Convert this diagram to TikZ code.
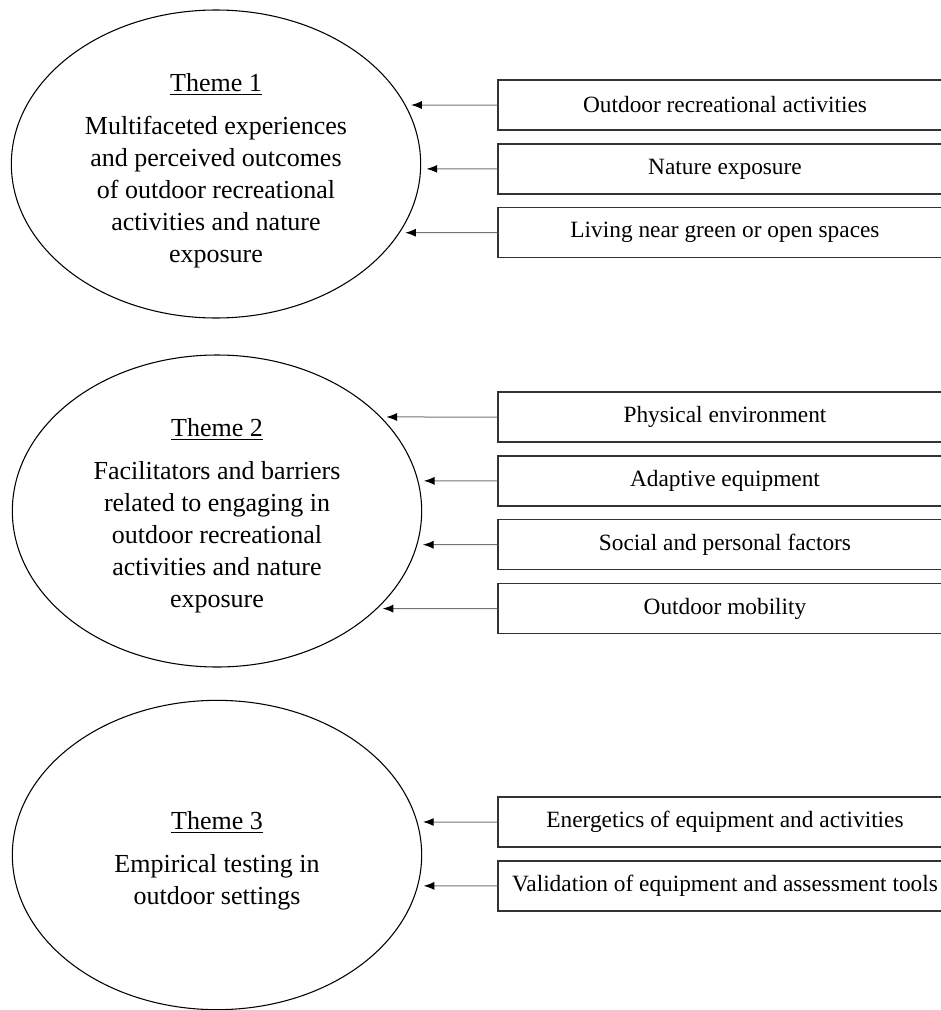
\documentclass[tikz,border=0pt]{standalone}
\usepackage{fontspec}
\setmainfont{Liberation Serif}
\usetikzlibrary{positioning,shapes.geometric,arrows.meta,intersections}

\begin{document}
\begin{tikzpicture}[
    x=0.75pt, y=-0.75pt,
    node distance=9.4pt,
    theme/.style={draw, line width=0.8pt, ellipse, inner sep=0pt, minimum width=307pt, minimum height=232pt},
    themetext/.style={inner sep=0pt, align=center, font=\fontsize{19.5}{24}\selectfont},
    factor/.style={draw=black!80, line width=1pt, minimum width=340.5pt, minimum height=37.5pt, inner sep=0pt, font=\fontsize{17.5}{21}\selectfont},
    link/.style={draw=black!55, line width=0.75pt, -{Latex[black,length=8pt,width=6pt]}, shorten >=4.5pt}
  ]
    \clip (0,0) rectangle (941,1010);

    % themes
    \node[theme, name path=t1, minimum height=231pt] (t1) at (216,164) {};
    \node[themetext] (t1x) at (216,171) {\underline{Theme 1}\\[8pt]Multifaceted experiences\\and perceived outcomes\\of outdoor recreational\\activities and nature\\exposure};
    \node[theme, name path=t2, minimum height=234pt] (t2) at (217,511) {};
    \node[themetext] (t2x) at (217,516) {\underline{Theme 2}\\[8pt]Facilitators and barriers\\related to engaging in\\outdoor recreational\\activities and nature\\exposure};
    \node[theme, name path=t3] (t3) at (217,855) {};
    \node[themetext] (t3x) at (217,861) {\underline{Theme 3}\\[8pt]Empirical testing in\\outdoor settings};

    % factors
    \node[factor] (a1) at (725,105) {Outdoor recreational activities};
    \node[factor, below=of a1] (a2) {Nature exposure};
    \node[factor, below=of a2] (a3) {Living near green or open spaces};

    \node[factor] (b1) at (725,417) {Physical environment};
    \node[factor, below=of b1] (b2) {Adaptive equipment};
    \node[factor, below=of b2] (b3) {Social and personal factors};
    \node[factor, below=of b3] (b4) {Outdoor mobility};

    \node[factor] (c1) at (725,822) {Energetics of equipment and activities};
    \node[factor, below=of c1] (c2) {Validation of equipment and assessment tools};

    % links
    \foreach \src/\tgt in {a1/t1, a2/t1, a3/t1, b1/t2, b2/t2, b3/t2, b4/t2, c1/t3, c2/t3} {
      \path[name path=h] (\src.west) -- ++(-300,0);
      \draw[link, name intersections={of=h and \tgt}] (\src.west) -- (intersection-1);
    }
  \end{tikzpicture}
\end{document}
